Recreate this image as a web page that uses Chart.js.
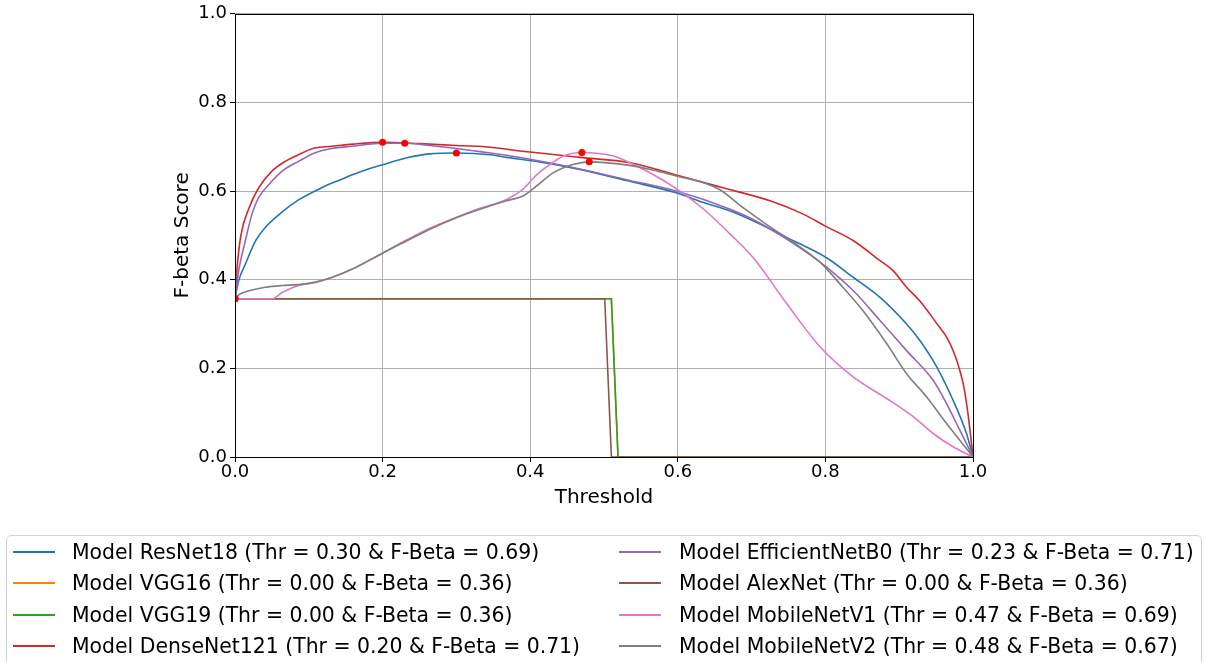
<!DOCTYPE html>
<html>
<head>
<meta charset="utf-8">
<script src="https://cdn.jsdelivr.net/npm/chart.js@4.4.1/dist/chart.umd.min.js"></script>
<style>
  body { margin: 0; background: #fff; }
  #wrap { position: relative; width: 1205px; height: 662px; overflow: hidden; font-family: "DejaVu Sans", sans-serif; }
  #chart { position: absolute; left: 0; top: 0; }
  #legendBox { position: absolute; left: 6px; top: 535px; width: 1196px; height: 160px; border: 1px solid #d4d4d4; border-radius: 5px; box-sizing: border-box; }
  .item { position: absolute; height: 24px; line-height: 24px; font-size: 20.4px; color: #000; white-space: nowrap; }
  .handle { position: absolute; height: 2px; width: 42px; }
</style>
</head>
<body>
<div id="wrap">
  <canvas id="chart" width="1205" height="662"></canvas>
  <div id="legendBox"></div>
</div>
<script>
// model names + tab10 colours
const models = ["ResNet18", "VGG16", "VGG19", "DenseNet121", "EfficientNetB0", "AlexNet", "MobileNetV1", "MobileNetV2"];
const colors = ["#1f77b4", "#ff7f0e", "#2ca02c", "#d62728", "#9467bd", "#8c564b", "#e377c2", "#7f7f7f"];

// best threshold / best F-beta per model (red dots)
const bestThr = [0.30, 0.00, 0.00, 0.20, 0.23, 0.00, 0.47, 0.48];
const bestF = [0.686, 0.357, 0.357, 0.710, 0.708, 0.357, 0.687, 0.666];

// curves
const resnetThr = [0, 0.005, 0.014, 0.028, 0.041, 0.064, 0.086, 0.118, 0.142, 0.169, 0.201, 0.233, 0.264, 0.3, 0.346, 0.368, 0.409, 0.467, 0.535, 0.598, 0.635, 0.671, 0.702, 0.748, 0.802, 0.838, 0.874, 0.91, 0.928, 0.951, 0.973, 0.991, 1.0];
const resnetF = [0.357, 0.398, 0.435, 0.488, 0.518, 0.553, 0.580, 0.608, 0.625, 0.643, 0.660, 0.675, 0.684, 0.686, 0.682, 0.676, 0.667, 0.649, 0.622, 0.596, 0.574, 0.555, 0.533, 0.495, 0.449, 0.405, 0.36, 0.30, 0.263, 0.203, 0.128, 0.054, 0.0];

const vgg16Thr = [0, 0.51, 0.519, 1.0];
const vgg16F = [0.357, 0.357, 0, 0];

const vgg19Thr = [0, 0.51, 0.519, 1.0];
const vgg19F = [0.357, 0.357, 0, 0];

const denseThr = [0, 0.003, 0.008, 0.019, 0.032, 0.05, 0.068, 0.086, 0.108, 0.131, 0.16, 0.2, 0.25, 0.3, 0.33, 0.4, 0.467, 0.535, 0.603, 0.66, 0.725, 0.77, 0.80, 0.838, 0.874, 0.892, 0.91, 0.928, 0.951, 0.965, 0.975, 0.982, 0.988, 0.993, 0.997, 1.0];
const denseF = [0.357, 0.43, 0.50, 0.562, 0.607, 0.645, 0.667, 0.682, 0.697, 0.701, 0.706, 0.71, 0.707, 0.703, 0.701, 0.688, 0.676, 0.664, 0.634, 0.608, 0.578, 0.548, 0.521, 0.488, 0.443, 0.42, 0.383, 0.352, 0.301, 0.268, 0.232, 0.196, 0.155, 0.10, 0.045, 0.0];

const effThr = [0, 0.005, 0.014, 0.023, 0.032, 0.046, 0.064, 0.086, 0.108, 0.131, 0.159, 0.2, 0.23, 0.264, 0.3, 0.332, 0.368, 0.409, 0.467, 0.535, 0.598, 0.671, 0.702, 0.748, 0.802, 0.838, 0.874, 0.91, 0.946, 0.964, 0.982, 1.0];
const effF = [0.357, 0.42, 0.488, 0.548, 0.585, 0.615, 0.645, 0.667, 0.686, 0.696, 0.701, 0.708, 0.708, 0.703, 0.696, 0.689, 0.681, 0.669, 0.650, 0.624, 0.600, 0.559, 0.536, 0.491, 0.428, 0.375, 0.308, 0.240, 0.173, 0.121, 0.061, 0.0];

const alexThr = [0, 0.501, 0.51, 1.0];
const alexF = [0.357, 0.357, 0, 0];

const mnv1Thr = [0, 0.05, 0.064, 0.086, 0.108, 0.131, 0.159, 0.201, 0.233, 0.264, 0.3, 0.332, 0.368, 0.39, 0.409, 0.427, 0.445, 0.47, 0.513, 0.535, 0.567, 0.603, 0.635, 0.671, 0.702, 0.748, 0.793, 0.838, 0.883, 0.919, 0.946, 0.973, 1.0];
const mnv1F = [0.357, 0.357, 0.371, 0.387, 0.394, 0.405, 0.424, 0.461, 0.49, 0.516, 0.541, 0.561, 0.581, 0.604, 0.637, 0.660, 0.679, 0.687, 0.679, 0.664, 0.637, 0.600, 0.559, 0.503, 0.45, 0.345, 0.248, 0.18, 0.132, 0.091, 0.053, 0.023, 0.0];

const mnv2Thr = [0, 0.005, 0.019, 0.041, 0.064, 0.086, 0.108, 0.131, 0.159, 0.201, 0.233, 0.264, 0.3, 0.332, 0.368, 0.39, 0.409, 0.431, 0.458, 0.48, 0.535, 0.567, 0.598, 0.635, 0.657, 0.689, 0.72, 0.757, 0.793, 0.82, 0.851, 0.883, 0.91, 0.937, 0.964, 1.0];
const mnv2F = [0.357, 0.366, 0.375, 0.383, 0.387, 0.389, 0.394, 0.405, 0.424, 0.461, 0.488, 0.514, 0.540, 0.559, 0.578, 0.589, 0.612, 0.641, 0.660, 0.666, 0.658, 0.647, 0.634, 0.619, 0.603, 0.562, 0.525, 0.484, 0.439, 0.390, 0.330, 0.256, 0.188, 0.136, 0.076, 0.0];

const xTicks = [0, 0.2, 0.4, 0.6, 0.8, 1.0];
const yTicks = [0, 0.2, 0.4, 0.6, 0.8, 1.0];

const curveThr = [resnetThr, vgg16Thr, vgg19Thr, denseThr, effThr, alexThr, mnv1Thr, mnv2Thr];
const curveF = [resnetF, vgg16F, vgg19F, denseF, effF, alexF, mnv1F, mnv2F];
const steps = ["VGG16", "VGG19", "AlexNet"];

const toPts = (xs, ys) => xs.map((x, i) => ({ x: x, y: ys[i] }));

const datasets = models.map((m, i) => ({
  label: "Model " + m,
  data: toPts(curveThr[i], curveF[i]),
  borderColor: colors[i],
  borderWidth: 1.6,
  pointRadius: 0,
  showLine: true,
  fill: false,
  cubicInterpolationMode: steps.includes(m) ? "default" : "monotone",
  tension: steps.includes(m) ? 0 : 0.4,
  order: 10 - i,
}));

datasets.push({
  label: "best",
  data: toPts(bestThr, bestF),
  showLine: false,
  pointRadius: 3.5,
  pointBackgroundColor: "#ff0000",
  pointBorderColor: "#ff0000",
  pointBorderWidth: 0,
  clip: 0,
  order: 0,
});

// full box round the plot, like matplotlib spines
const frame = {
  id: "frame",
  afterDatasetsDraw(chart) {
    const a = chart.chartArea;
    const c = chart.ctx;
    c.save();
    c.strokeStyle = "#000";
    c.lineWidth = 1;
    c.strokeRect(Math.round(a.left) + 0.5, Math.round(a.top) + 0.5, Math.round(a.right - a.left), Math.round(a.bottom - a.top));
    c.restore();
  },
};

Chart.defaults.font.family = "'DejaVu Sans', sans-serif";
Chart.defaults.color = "#000";

new Chart(document.getElementById("chart"), {
  type: "scatter",
  data: { datasets: datasets },
  options: {
    responsive: false,
    animation: false,
    layout: { padding: { top: 12, right: 232, left: 0, bottom: 0 } },
    plugins: { legend: { display: false }, tooltip: { enabled: false } },
    scales: {
      x: {
        type: "linear",
        min: 0,
        max: 1,
        afterFit: (s) => { s.height = 205; },
        afterBuildTicks: (s) => { s.ticks = xTicks.map((v) => ({ value: v })); },
        ticks: { font: { size: 18 }, padding: 0, callback: (v) => v.toFixed(1) },
        grid: { color: "#b0b0b0", lineWidth: 1, tickColor: "#000", tickLength: 5 },
        border: { display: false },
        title: { display: true, text: "Threshold", font: { size: 20 }, padding: { bottom: 152 } },
      },
      y: {
        type: "linear",
        min: 0,
        max: 1,
        afterFit: (s) => { s.width = 235; },
        afterBuildTicks: (s) => { s.ticks = yTicks.map((v) => ({ value: v })); },
        ticks: { font: { size: 18 }, padding: 3, callback: (v) => v.toFixed(1) },
        grid: { color: "#b0b0b0", lineWidth: 1, tickColor: "#000", tickLength: 5 },
        border: { display: false },
        title: { display: true, text: "F-beta Score", font: { size: 20 }, padding: { top: 171 } },
      },
    },
  },
  plugins: [frame],
});

// legend in two columns, column-major like matplotlib ncol=2
const wrap = document.getElementById("wrap");
const colHandle = [13, 619];
const colText = [72, 679];
const rowY = [552, 583.3, 614.6, 646];
models.forEach((m, i) => {
  const col = Math.floor(i / 4);
  const row = i % 4;
  const h = document.createElement("div");
  h.className = "handle";
  h.style.left = colHandle[col] + "px";
  h.style.top = (rowY[row] - 1) + "px";
  h.style.background = colors[i];
  wrap.appendChild(h);
  const t = document.createElement("div");
  t.className = "item";
  t.style.left = colText[col] + "px";
  t.style.top = (rowY[row] - 12) + "px";
  t.textContent = "Model " + m + " (Thr = " + bestThr[i].toFixed(2) + " & F-Beta = " + bestF[i].toFixed(2) + ")";
  wrap.appendChild(t);
});
</script>
</body>
</html>
